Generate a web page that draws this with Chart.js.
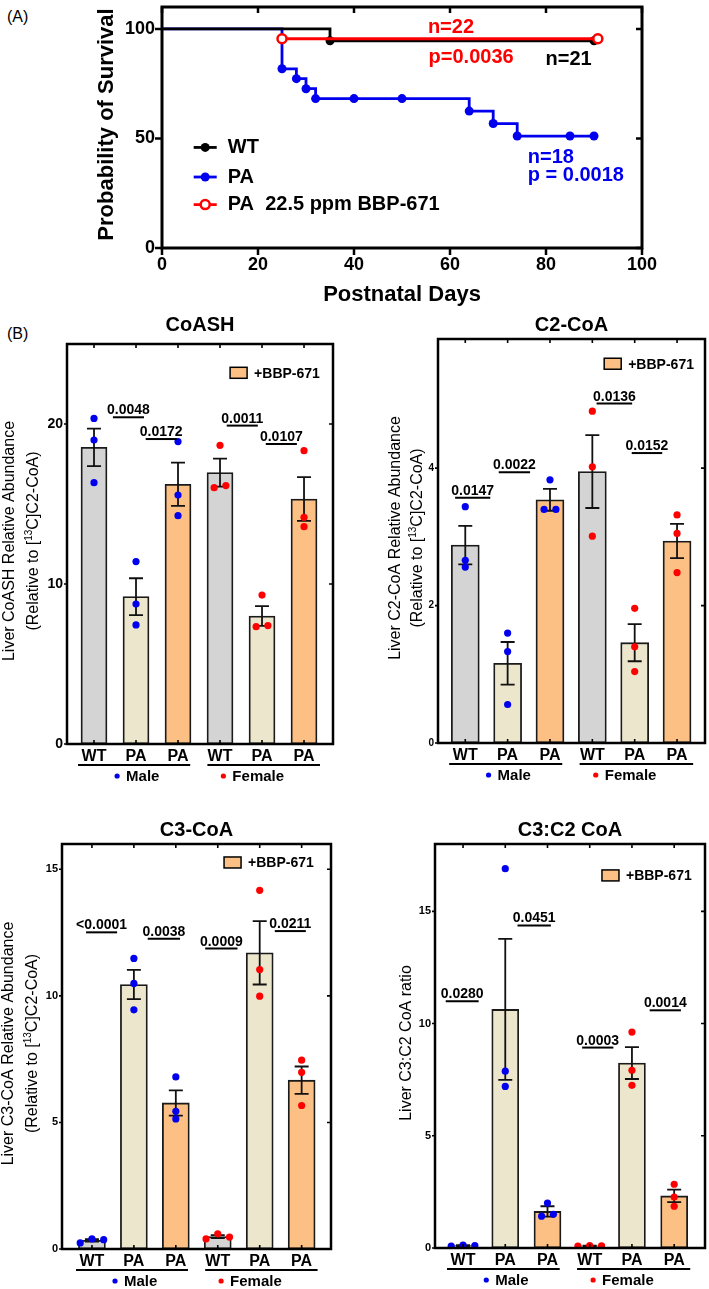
<!DOCTYPE html>
<html>
<head>
<meta charset="utf-8">
<script src="https://cdn.jsdelivr.net/npm/chart.js@4.4.1/dist/chart.umd.min.js"></script>
<style>
body { margin: 0; background: #fff; width: 709px; height: 1289px; position: relative; overflow: hidden; font-family: 'Liberation Sans', Arial, sans-serif; }
canvas, .tag { position: absolute; }
.tag { font-size: 16px; color: #000; }
</style>
</head>
<body>
<div class="tag" style="left:7px;top:8px">(A)</div>
<div class="tag" style="left:7px;top:325px">(B)</div>
<canvas id="surv" width="709" height="312" style="left:0;top:0"></canvas>
<canvas id="coash" width="355" height="478" style="left:0;top:312px"></canvas>
<canvas id="c2coa" width="354" height="478" style="left:355px;top:312px"></canvas>
<canvas id="c3coa" width="355" height="489" style="left:0;top:800px"></canvas>
<canvas id="ratio" width="354" height="489" style="left:355px;top:800px"></canvas>
<script>
// ---- (A) survival curves ----
const wtDays = [0, 35, 90];
const wtSurv = [100, 94.6, 94.6];
const paDays = [0, 25, 28, 30, 32, 40, 50, 64, 69, 74, 85, 90];
const paSurv = [100, 81.8, 77.3, 72.7, 68.2, 68.2, 68.2, 62.5, 56.8, 51.1, 51.1, 51.1];
const bbpDays = [25, 90.8];
const bbpSurv = [95.5, 95.5];

const noteText = ['n=22', 'p=0.0036', 'n=21', 'n=18', 'p = 0.0018'];
const noteDay = [60.2, 64.4, 84.7, 76.2, 76.2];
const noteSurv = [100.5, 86.9, 86, 41.4, 33.3];
const noteSeries = ['bbp', 'bbp', 'wt', 'pa', 'pa'];

// ---- (B) liver acyl-CoA bars ----
const groupLabels = ['WT', 'PA', 'PA', 'WT', 'PA', 'PA'];

const coashMean = [18.54, 9.21, 16.23, 16.96, 8.0, 15.31];
const coashSem = [1.17, 1.15, 1.35, 0.87, 0.62, 1.37];
const coashDots = [[20.35, 19.0, 16.33], [11.4, 8.75, 7.44], [18.9, 15.56, 14.27],
                   [18.67, 16.02, 16.15], [9.31, 7.33, 7.4], [18.33, 14.17, 13.58]];
const coashP = ['0.0048', '0.0172', '0.0011', '0.0107'];
const coashPFrom = [0.45, 1.23, 3.16, 4.09];
const coashPTo = [1.19, 1.97, 3.9, 4.83];
const coashPAt = [20.42, 19.06, 19.9, 18.75];

const c2Mean = [2.88, 1.16, 3.54, 3.95, 1.46, 2.94];
const c2Sem = [0.28, 0.31, 0.16, 0.53, 0.27, 0.25];
const c2Dots = [[3.44, 2.66, 2.56], [1.6, 1.33, 0.56], [3.83, 3.4, 3.4],
                [4.83, 4.02, 3.01], [1.96, 1.4, 1.04], [3.32, 3.05, 2.48]];
const c2P = ['0.0147', '0.0022', '0.0136', '0.0152'];
const c2PFrom = [-0.24, 0.79, 3.1, 3.93];
const c2PTo = [0.59, 1.53, 3.94, 4.65];
const c2PAt = [3.57, 3.94, 4.94, 4.22];

const c3Mean = [0.34, 10.45, 5.77, 0.49, 11.7, 6.67];
const c3Sem = [0.05, 0.58, 0.5, 0.06, 1.25, 0.54];
const c3Dots = [[0.24, 0.40, 0.37], [11.48, 10.49, 9.45], [6.8, 5.44, 5.14],
                [0.40, 0.60, 0.47], [14.17, 11.04, 9.99], [7.46, 6.98, 5.67]];
const c3P = ['<0.0001', '0.0038', '0.0009', '0.0211'];
const c3PFrom = [-0.14, 1.33, 2.7, 4.36];
const c3PTo = [0.6, 2.1, 3.47, 5.1];
const c3PAt = [12.51, 12.26, 11.87, 12.56];

const ratioMean = [0.11, 10.63, 1.63, 0.1, 8.24, 2.32];
const ratioSem = [0.02, 3.14, 0.23, 0.01, 0.71, 0.28];
const ratioDots = [[0.08, 0.13, 0.11], [16.9, 7.88, 7.2], [2.0, 1.42, 1.5],
                   [0.09, 0.11, 0.1], [9.62, 7.92, 7.25], [2.84, 2.27, 1.86]];
const ratioP = ['0.0280', '0.0451', '0.0003', '0.0014'];
const ratioPFrom = [-0.41, 1.29, 2.82, 4.42];
const ratioPTo = [0.37, 2.08, 3.56, 5.16];
const ratioPAt = [10.99, 14.37, 8.93, 10.59];

const FONT = "'Liberation Sans', Arial, sans-serif";
Chart.defaults.font.family = FONT;
Chart.defaults.color = '#000';

const blue = '#0000ee';
const red = '#ff0000';
const seriesColor = {wt: '#000', pa: blue, bbp: red};
const barColors = ['#d4d4d4', '#ece6cc', '#fdc084', '#d4d4d4', '#ece6cc', '#fdc084'];

function pts(xs, ys) {
    return xs.map((v, i) => ({x: v, y: ys[i]}));
}

// spread overlapping dots sideways, like the scatter-dot-plot does
function jitter(vals, thr) {
    const order = vals.map((v, i) => i).sort((a, b) => vals[a] - vals[b]);
    const offs = vals.map(() => 0);
    let cluster = [order[0]];
    const flush = () => {
        cluster.sort((a, b) => a - b);
        cluster.forEach((idx, k) => { offs[idx] = (k - (cluster.length - 1) / 2) * 0.28; });
    };
    for (let k = 1; k < order.length; k++) {
        if (vals[order[k]] - vals[order[k - 1]] < thr) {
            cluster.push(order[k]);
        } else {
            flush();
            cluster = [order[k]];
        }
    }
    flush();
    return offs;
}

const survDecor = {
    id: 'survDecor',
    afterDraw(chart) {
        const {ctx, chartArea: a, scales: {x, y}} = chart;
        ctx.save();
        ctx.strokeStyle = '#000';
        ctx.lineWidth = 3;
        ctx.strokeRect(a.left, a.top, a.right - a.left, a.bottom - a.top);
        ctx.lineWidth = 2.5;
        ctx.beginPath();
        x.ticks.forEach(t => {
            const px = x.getPixelForValue(t.value);
            ctx.moveTo(px, a.bottom); ctx.lineTo(px, a.bottom + 7);
            ctx.moveTo(px, a.top); ctx.lineTo(px, a.top + 6);
        });
        y.ticks.forEach(t => {
            const py = y.getPixelForValue(t.value);
            ctx.moveTo(a.left - 7, py); ctx.lineTo(a.left, py);
            ctx.moveTo(a.right - 6, py); ctx.lineTo(a.right, py);
        });
        ctx.stroke();

        // axis titles
        ctx.fillStyle = '#000';
        ctx.font = `bold 22px ${FONT}`;
        ctx.textAlign = 'center';
        ctx.textBaseline = 'middle';
        ctx.fillText('Postnatal Days', (a.left + a.right) / 2, a.bottom + 47);
        ctx.save();
        ctx.translate(a.left - 55, (a.top + a.bottom) / 2 - 3);
        ctx.rotate(-Math.PI / 2);
        ctx.fillText('Probability of Survival', 0, 0);
        ctx.restore();

        // n / p annotations
        ctx.font = `bold 20px ${FONT}`;
        noteText.forEach((t, i) => {
            ctx.fillStyle = seriesColor[noteSeries[i]];
            ctx.textAlign = noteSeries[i] === 'pa' ? 'left' : 'center';
            ctx.fillText(t, x.getPixelForValue(noteDay[i]), y.getPixelForValue(noteSurv[i]));
        });

        // legend
        const items = [chart.data.datasets[2], chart.data.datasets[1], chart.data.datasets[0]];
        const rowY = [45.9, 32.4, 19.8];
        items.forEach((ds, i) => {
            const py = y.getPixelForValue(rowY[i]);
            const x0 = x.getPixelForValue(6.6), x1 = x.getPixelForValue(11.4);
            const open = ds.label.indexOf('BBP') >= 0;
            ctx.strokeStyle = ds.borderColor;
            ctx.lineWidth = 2.8;
            ctx.beginPath(); ctx.moveTo(x0, py); ctx.lineTo(x1, py); ctx.stroke();
            ctx.beginPath();
            ctx.arc((x0 + x1) / 2, py, 4.5, 0, Math.PI * 2);
            ctx.fillStyle = open ? '#fff' : ds.borderColor;
            ctx.fill();
            if (open) { ctx.lineWidth = 2.5; ctx.stroke(); }
            ctx.fillStyle = '#000';
            ctx.textAlign = 'left';
            ctx.fillText(ds.label, x.getPixelForValue(13.7), py);
        });
        ctx.restore();
    }
};

const dotR = ctx => (ctx.dataIndex === 0 ? 0 : 4.5);

new Chart(document.getElementById('surv'), {
    type: 'line',
    data: {
        datasets: [
            {label: 'PA  22.5 ppm BBP-671', data: pts(bbpDays, bbpSurv), borderColor: red, borderWidth: 2.8,
             stepped: 'before', pointRadius: 4.5, pointBorderWidth: 2.5, pointBorderColor: red,
             pointBackgroundColor: '#fff', order: 0},
            {label: 'PA', data: pts(paDays, paSurv), borderColor: blue, borderWidth: 2.8,
             stepped: 'before', pointRadius: dotR, pointBorderWidth: 0, pointBackgroundColor: blue, order: 2},
            {label: 'WT', data: pts(wtDays, wtSurv), borderColor: '#000', borderWidth: 2.8,
             stepped: 'before', pointRadius: dotR, pointBorderWidth: 0, pointBackgroundColor: '#000', order: 1}
        ]
    },
    options: {
        responsive: false,
        animation: false,
        events: [],
        layout: {padding: {top: 3, right: 67, bottom: 0, left: 0}},
        scales: {
            x: {
                type: 'linear', min: 0, max: 100,
                grid: {display: false, drawTicks: false},
                border: {display: false},
                ticks: {stepSize: 20, font: {size: 18, weight: 'bold'}, color: '#000', padding: 6, maxRotation: 0},
                afterFit: s => { s.height = 64; s.paddingLeft = 0; s.paddingRight = 0; }
            },
            y: {
                min: 0, max: 110,
                grid: {display: false, drawTicks: false},
                border: {display: false},
                ticks: {stepSize: 50, includeBounds: false, font: {size: 18, weight: 'bold'}, color: '#000', padding: 7},
                afterFit: s => { s.width = 162; s.paddingTop = 0; s.paddingBottom = 0; }
            }
        },
        plugins: {legend: {display: false}, tooltip: {enabled: false}}
    },
    plugins: [survDecor]
});

// ---- bar panels ----
function rotatedLine(ctx, parts, cx, cy) {
    const main = `16px ${FONT}`, sup = `10px ${FONT}`;
    ctx.save();
    ctx.translate(cx, cy);
    ctx.rotate(-Math.PI / 2);
    ctx.textAlign = 'left';
    ctx.textBaseline = 'middle';
    let total = 0;
    parts.forEach((p, k) => { ctx.font = k % 2 ? sup : main; total += ctx.measureText(p).width; });
    let pos = -total / 2;
    parts.forEach((p, k) => {
        ctx.font = k % 2 ? sup : main;
        ctx.fillText(p, pos, k % 2 ? -5 : 0);
        pos += ctx.measureText(p).width;
    });
    ctx.restore();
}

function makeDecor(c) {
    return {
        id: 'decor',
        afterDatasetDraw(chart, args) {
            if (args.index !== 0) return;
            const {ctx, scales: {x, y}} = chart;
            ctx.save();
            ctx.strokeStyle = '#111';
            ctx.lineWidth = 1.8;
            ctx.beginPath();
            c.mean.forEach((m, i) => {
                const px = x.getPixelForValue(i);
                const hi = y.getPixelForValue(m + c.sem[i]);
                const lo = y.getPixelForValue(Math.max(m - c.sem[i], 0));
                ctx.moveTo(px, hi); ctx.lineTo(px, lo);
                ctx.moveTo(px - 7, hi); ctx.lineTo(px + 7, hi);
                ctx.moveTo(px - 7, lo); ctx.lineTo(px + 7, lo);
            });
            ctx.stroke();
            ctx.restore();
        },
        afterDraw(chart) {
            const {ctx, chartArea: a, scales: {x, y}} = chart;
            ctx.save();
            ctx.strokeStyle = '#000';
            ctx.lineWidth = 2.5;
            ctx.strokeRect(a.left, a.top, a.right - a.left, a.bottom - a.top);
            ctx.lineWidth = 1.6;
            ctx.beginPath();
            y.ticks.forEach(t => {
                const py = y.getPixelForValue(t.value);
                ctx.moveTo(a.left - 3, py); ctx.lineTo(a.left, py);
                if (t.value > 0) { ctx.moveTo(a.right - 4, py); ctx.lineTo(a.right + 1, py); }
            });
            x.ticks.forEach(t => {
                const px = x.getPixelForValue(t.value);
                ctx.moveTo(px, a.top); ctx.lineTo(px, a.top + 4);
                ctx.moveTo(px, a.bottom); ctx.lineTo(px, a.bottom - 4);
            });
            ctx.stroke();

            // panel title
            ctx.fillStyle = '#000';
            ctx.textAlign = 'center';
            ctx.textBaseline = 'middle';
            ctx.font = `bold 20px ${FONT}`;
            ctx.fillText(c.title, (a.left + a.right) / 2, c.titleY);

            // y title lines
            c.yTitle.forEach((parts, k) => rotatedLine(ctx, parts, c.yTitleX[k], (a.top + a.bottom) / 2 - 3));

            // p values
            ctx.font = `bold 14px ${FONT}`;
            ctx.textBaseline = 'alphabetic';
            ctx.lineWidth = 2;
            c.p.forEach((t, i) => {
                const x0 = x.getPixelForValue(c.pFrom[i]), x1 = x.getPixelForValue(c.pTo[i]);
                const py = y.getPixelForValue(c.pAt[i]);
                ctx.beginPath(); ctx.moveTo(x0, py); ctx.lineTo(x1, py); ctx.stroke();
                ctx.fillText(t, (x0 + x1) / 2, py - 3);
            });

            // legend
            const lx = x.getPixelForValue(c.legendAt[0]), ly = y.getPixelForValue(c.legendAt[1]);
            ctx.fillStyle = barColors[2];
            ctx.fillRect(lx, ly - 5.5, 17, 11);
            ctx.lineWidth = 1.5;
            ctx.strokeRect(lx, ly - 5.5, 17, 11);
            ctx.fillStyle = '#000';
            ctx.textAlign = 'left';
            ctx.textBaseline = 'middle';
            ctx.fillText('+BBP-671', lx + 24, ly + 1);

            // sex groups under the axis
            const groups = [['Male', blue, -0.38, 2.29, 0.55], ['Female', red, 2.7, 5.38, 3.08]];
            ctx.font = `bold 15px ${FONT}`;
            groups.forEach(([name, col, g0, g1, d]) => {
                ctx.lineWidth = 2;
                ctx.beginPath();
                ctx.moveTo(x.getPixelForValue(g0), a.bottom + 21);
                ctx.lineTo(x.getPixelForValue(g1), a.bottom + 21);
                ctx.stroke();
                const dx = x.getPixelForValue(d);
                ctx.fillStyle = col;
                ctx.beginPath(); ctx.arc(dx, a.bottom + 32, 2.6, 0, Math.PI * 2); ctx.fill();
                ctx.fillStyle = '#000';
                ctx.fillText(name, dx + 9, a.bottom + 33);
            });
            ctx.restore();
        }
    };
}

function barPanel(id, c) {
    const male = [], female = [];
    c.dots.forEach((vals, i) => {
        const offs = jitter(vals, c.yMax * 0.015);
        vals.forEach((v, j) => (i < 3 ? male : female).push({x: i + offs[j], y: v}));
    });
    new Chart(document.getElementById(id), {
        type: 'bar',
        data: {
            datasets: [
                {type: 'bar', data: c.mean.map((v, i) => ({x: i, y: v})), backgroundColor: barColors,
                 borderColor: '#1a1a1a', borderWidth: 1.8, borderSkipped: false, barThickness: c.barW, order: 2},
                {type: 'scatter', data: male, backgroundColor: blue, pointRadius: 3.6, borderWidth: 0, order: 1},
                {type: 'scatter', data: female, backgroundColor: red, pointRadius: 3.6, borderWidth: 0, order: 1}
            ]
        },
        options: {
            responsive: false,
            animation: false,
            events: [],
            layout: {padding: {top: c.pad[0], right: c.pad[1], bottom: 0, left: 0}},
            scales: {
                x: {
                    type: 'linear', offset: false, min: c.xMin, max: c.xMax,
                    grid: {display: false, drawTicks: false, offset: false},
                    border: {display: false},
                    afterBuildTicks: s => { s.ticks = groupLabels.map((_, i) => ({value: i})); },
                    ticks: {callback: v => groupLabels[v], font: {size: 16, weight: 'bold'}, color: '#000',
                            padding: 3, maxRotation: 0, autoSkip: false},
                    afterFit: s => { s.height = c.xH; s.paddingLeft = 0; s.paddingRight = 0; }
                },
                y: {
                    min: 0, max: c.yMax,
                    grid: {display: false, drawTicks: false},
                    border: {display: false},
                    ticks: {stepSize: c.yStep, includeBounds: false, font: {size: c.yFont, weight: 'bold'},
                            color: '#000', padding: 4},
                    afterFit: s => { s.width = c.yW; s.paddingTop = 0; s.paddingBottom = 0; }
                }
            },
            plugins: {legend: {display: false}, tooltip: {enabled: false}}
        },
        plugins: [makeDecor(c)]
    });
}

const c2Title = ['(Relative to [', '13', 'C]C2-CoA)'];

barPanel('coash', {
    title: 'CoASH', mean: coashMean, sem: coashSem, dots: coashDots,
    p: coashP, pFrom: coashPFrom, pTo: coashPTo, pAt: coashPAt,
    yTitle: [['Liver CoASH Relative Abundance'], c2Title], yTitleX: [10, 34],
    xMin: -0.643, xMax: 5.69, yMax: 25, yStep: 10, yFont: 14,
    yW: 67, xH: 46, pad: [32, 22], barW: 26, titleY: 13, legendAt: [3.24, 23.2]
});
barPanel('c2coa', {
    title: 'C2-CoA', mean: c2Mean, sem: c2Sem, dots: c2Dots,
    p: c2P, pFrom: c2PFrom, pTo: c2PTo, pAt: c2PAt,
    yTitle: [['Liver C2-CoA Relative Abundance'], c2Title], yTitleX: [41, 63],
    xMin: -0.644, xMax: 5.66, yMax: 5.88, yStep: 2, yFont: 10,
    yW: 83, xH: 47, pad: [27, 4], barW: 28, titleY: 13, legendAt: [3.28, 5.52]
});
barPanel('c3coa', {
    title: 'C3-CoA', mean: c3Mean, sem: c3Sem, dots: c3Dots,
    p: c3P, pFrom: c3PFrom, pTo: c3PTo, pAt: c3PAt,
    yTitle: [['Liver C3-CoA Relative Abundance'], c2Title], yTitleX: [9, 33],
    xMin: -0.714, xMax: 5.7, yMax: 16, yStep: 5, yFont: 11,
    yW: 62, xH: 40, pad: [44, 24], barW: 27, titleY: 30, legendAt: [3.15, 15.27]
});
barPanel('ratio', {
    title: 'C3:C2 CoA', mean: ratioMean, sem: ratioSem, dots: ratioDots,
    p: ratioP, pFrom: ratioPFrom, pTo: ratioPTo, pAt: ratioPAt,
    yTitle: [['Liver C3:C2 CoA ratio']], yTitleX: [52],
    xMin: -0.664, xMax: 5.73, yMax: 18, yStep: 5, yFont: 11,
    yW: 80, xH: 41, pad: [44, 2], barW: 27, titleY: 30, legendAt: [3.29, 16.6]
});
</script>
</body>
</html>
